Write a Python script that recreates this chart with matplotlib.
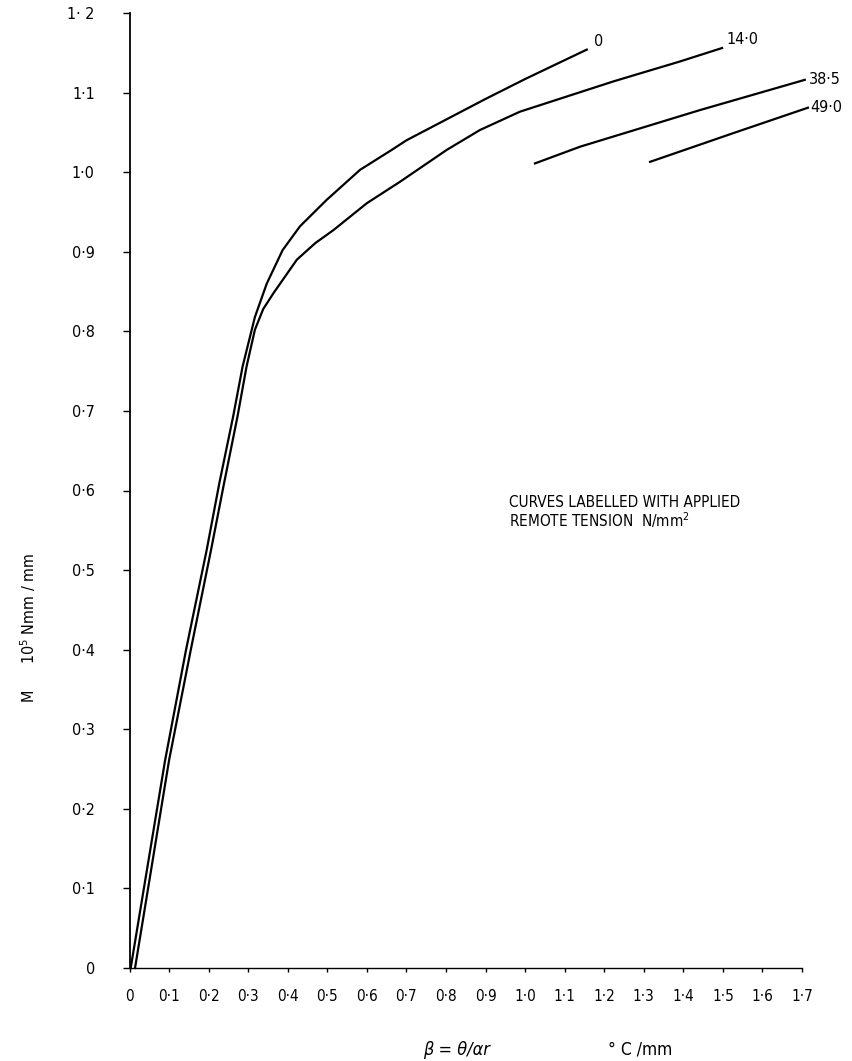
import matplotlib.pyplot as plt

# curves (beta in degC/mm, M in 10^5 Nmm/mm)
beta_0 = [0.003, 0.090, 0.143, 0.195, 0.227, 0.262, 0.286, 0.317, 0.347,
          0.387, 0.431, 0.498, 0.583, 0.663, 0.700, 0.800, 0.900, 1.000,
          1.080, 1.156]
m_0 = [0.0, 0.261, 0.400, 0.525, 0.609, 0.693, 0.756, 0.818, 0.860,
       0.902, 0.932, 0.965, 1.003, 1.028, 1.040, 1.066, 1.092, 1.117,
       1.136, 1.154]

beta_14 = [0.014, 0.100, 0.155, 0.206, 0.239, 0.273, 0.296, 0.317, 0.338,
           0.364, 0.423, 0.470, 0.515, 0.600, 0.684, 0.802, 0.886, 0.987,
           1.105, 1.223, 1.290, 1.391, 1.498]
m_14 = [0.0, 0.261, 0.400, 0.525, 0.609, 0.693, 0.756, 0.802, 0.828,
        0.848, 0.890, 0.911, 0.927, 0.961, 0.988, 1.028, 1.053, 1.076,
        1.095, 1.114, 1.124, 1.139, 1.156]

beta_38 = [1.025, 1.139, 1.442, 1.707]
m_38 = [1.011, 1.032, 1.078, 1.116]

beta_49 = [1.316, 1.526, 1.715]
m_49 = [1.013, 1.049, 1.081]

curve_labels = ['0', '14·0', '38·5', '49·0']

x_ticks = [i / 10 for i in range(18)]
x_ticklabels = ['0', '0·1', '0·2', '0·3', '0·4', '0·5', '0·6', '0·7', '0·8',
                '0·9', '1·0', '1·1', '1·2', '1·3', '1·4', '1·5', '1·6', '1·7']
y_ticks = [i / 10 for i in range(13)]
y_ticklabels = ['0', '0·1', '0·2', '0·3', '0·4', '0·5', '0·6', '0·7', '0·8',
                '0·9', '1·0', '1·1', '1· 2']

plt.rcParams['font.family'] = ['DejaVu Sans']
plt.rcParams['font.stretch'] = 'condensed'
plt.rcParams['mathtext.default'] = 'regular'

W, H = 853, 1061
fig = plt.figure(figsize=(W / 100, H / 100), dpi=100)
ax = fig.add_axes([129.5 / W, 1 - 968 / H, (802 - 129.5) / W, (968 - 13) / H])

curves = [(beta_0, m_0), (beta_14, m_14), (beta_38, m_38), (beta_49, m_49)]
offsets = [(5, 6), (3, 6), (3, 0), (2, 0)]
for (bx, my), lab, off in zip(curves, curve_labels, offsets):
    ax.plot(bx, my, color='black', lw=1.6, clip_on=False, solid_joinstyle='round')
    ax.annotate(lab, (bx[-1], my[-1]), xytext=off, textcoords='offset points',
                fontsize=11.5, va='center', ha='left', annotation_clip=False)

ax.set_xlim(0, 1.7)
ax.set_ylim(0, 1.2)
ax.spines['top'].set_visible(False)
ax.spines['right'].set_visible(False)
ax.spines['left'].set_linewidth(1.3)
ax.spines['bottom'].set_linewidth(1.0)

ax.set_xticks(x_ticks)
ax.set_xticklabels(x_ticklabels, fontsize=11)
ax.set_yticks(y_ticks)
ax.set_yticklabels(y_ticklabels, fontsize=11.5)
ax.tick_params(axis='x', length=3, width=1, pad=12)
ax.tick_params(axis='y', length=5, width=1, pad=20)

# axis titles
fig.text(28 / W, 1 - 608 / H, '10$^5$ Nmm / mm', rotation=90, fontsize=11.5,
         ha='center', va='center')
fig.text(28 / W, 1 - 695 / H, 'M', rotation=90, fontsize=11.5,
         ha='center', va='center')
fig.text(423 / W, 1 - 1050 / H, 'β = θ/αr', fontsize=13, style='italic',
         ha='left', va='center')
fig.text(608 / W, 1 - 1050 / H, '° C /mm', fontsize=12.5, ha='left', va='center')

ax.text(0.96, 0.572, 'CURVES LABELLED WITH APPLIED\nREMOTE TENSION  N/mm$^2$',
        fontsize=11, ha='left', va='center', linespacing=1.0)

fig.savefig('out.png', dpi=100)
